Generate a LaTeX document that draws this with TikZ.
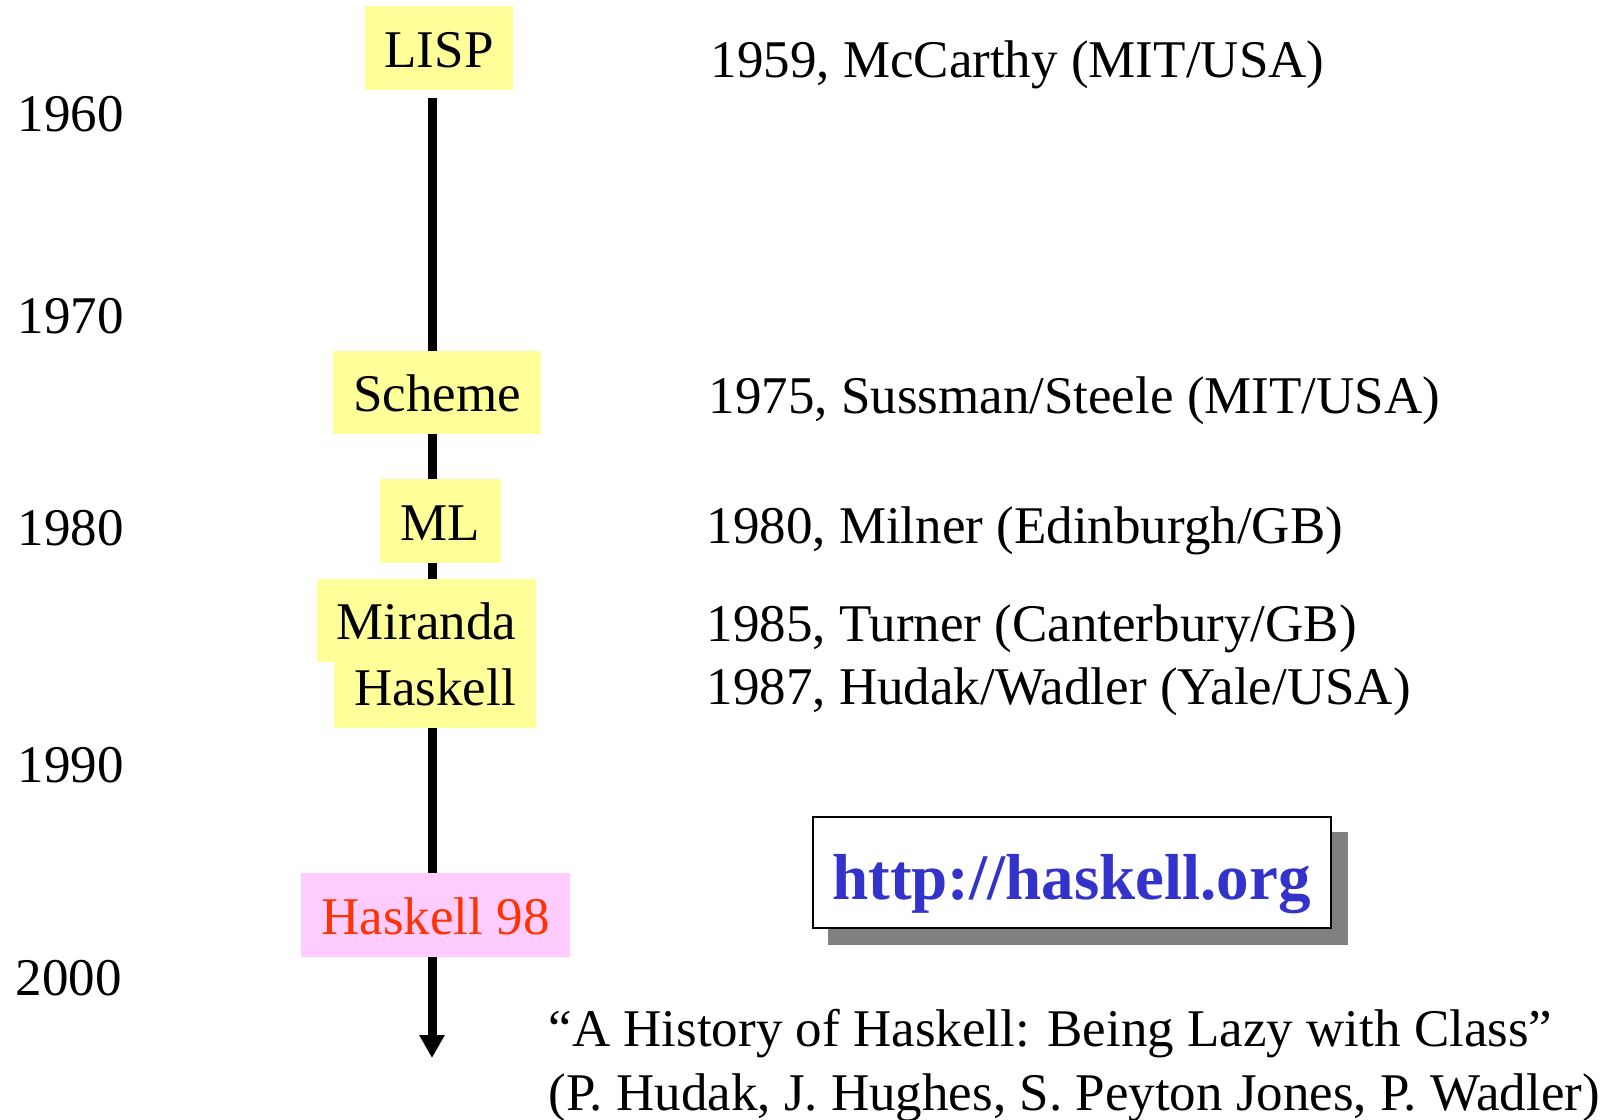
\documentclass[tikz,border=0pt]{standalone}
\usepackage{fontspec}
\setmainfont{Liberation Serif}
\usetikzlibrary{arrows.meta,backgrounds}
\definecolor{boxyellow}{HTML}{FFFF99}
\definecolor{boxpink}{HTML}{FFCCFF}
\definecolor{hred}{HTML}{FF3300}
\definecolor{urlblue}{HTML}{3333CC}
\definecolor{shadowgray}{HTML}{808080}
\begin{document}
\begin{tikzpicture}[x=1pt,y=-1pt,
  every node/.style={font=\fontsize{53}{60}\selectfont},
  langbox/.style={fill=boxyellow, inner sep=0pt, text height=38pt, text depth=0pt, align=center},
  year/.style={anchor=base west},
  info/.style={anchor=base west},
  timeline/.style={line width=9pt, -{Triangle[width=24pt,length=23pt]}}
]
\useasboundingbox (0,0) rectangle (1616,1119);

% language boxes
\node[langbox, minimum width=148pt, minimum height=84pt] (lisp) at (439,48) {LISP};
\node[langbox, minimum width=208pt, minimum height=83pt] (scheme) at (437,392.5) {Scheme};
\node[langbox, minimum width=121pt, minimum height=84pt] (ml) at (440.5,521) {ML};
\node[langbox, minimum width=219pt, minimum height=83pt] (miranda) at (426.5,620.5) {Miranda};
\node[langbox, minimum width=202pt, minimum height=83pt] (haskell) at (435,686) {Haskell};
\node[langbox, fill=boxpink, text=hred, minimum width=269pt, minimum height=84pt] (h98) at (435.5,915) {Haskell 98};

% timeline
\coordinate (tlend) at (432,1058);
\coordinate (tlstart) at (432,98);
\begin{scope}[on background layer]
\draw[timeline] (tlstart) -- (tlend);
\end{scope}

% years
\node[year] (y1960) at (14,131) {1960};
\node[year] (y1970) at (14,333) {1970};
\node[year] (y1980) at (14,545) {1980};
\node[year] (y1990) at (14,782) {1990};
\node[year] (y2000) at (12,995) {2000};

% info texts
\node[info] (i1959) at (707,77) {1959, McCarthy (MIT/USA)};
\node[info] (i1975) at (705,413) {1975, Sussman/Steele (MIT/USA)};
\node[info] (i1980) at (703,543) {1980, Milner (Edinburgh/GB)};
\node[info] (i1985) at (703,641) {1985, Turner (Canterbury/GB)};
\node[info] (i1987) at (703,704) {1987, Hudak/Wadler (Yale/USA)};

% url box with shadow
\fill[shadowgray] (828,832) rectangle (1348,945);
\node[draw=black, line width=2pt, fill=white, minimum width=518pt, minimum height=111pt, inner sep=0pt] (urlbox) at (1072,872.5) {};
\node[anchor=base, font=\fontsize{65}{70}\selectfont\bfseries, text=urlblue] (url) at (1071.5,899) {http://haskell.org};

% reference
\node[info] (ref1) at (545,1046) {“A History of Haskell: Being Lazy with Class”};
\node[info] (ref2) at (545,1110) {(P. Hudak, J. Hughes, S. Peyton Jones, P. Wadler)};
\end{tikzpicture}
\end{document}
